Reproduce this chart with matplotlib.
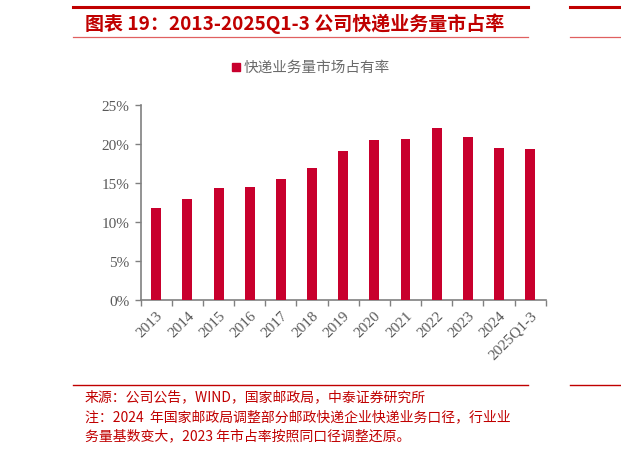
import matplotlib
matplotlib.use("Agg")
import matplotlib.pyplot as plt
from matplotlib.lines import Line2D
from matplotlib.patches import Rectangle
import numpy as np

categories = ["2013", "2014", "2015", "2016", "2017", "2018", "2019",
              "2020", "2021", "2022", "2023", "2024", "2025Q1-3"]
share = [11.7, 12.9, 14.3, 14.4, 15.5, 16.9, 19.1, 20.5, 20.6, 22.05, 20.9, 19.4, 19.35]
y_ticks = [0, 5, 10, 15, 20, 25]
y_labels = ["0%", "5%", "10%", "15%", "20%", "25%"]

title = "图表 19：2013-2025Q1-3 公司快递业务量市占率"
legend_label = "快递业务量市场占有率"
notes = ["来源：公司公告，WIND，国家邮政局，中泰证券研究所",
         "注：2024  年国家邮政局调整部分邮政快递企业快递业务口径，行业业",
         "务量基数变大，2023 年市占率按照同口径调整还原。"]

RED = "#C8002D"
TRED = "#C00000"
GREY = "#808080"
CJK = ["Noto Sans CJK SC", "DejaVu Sans"]
SERIF = ["Liberation Serif", "DejaVu Serif"]

W, H = 621, 456
fig = plt.figure(figsize=(W / 100, H / 100), dpi=100)

def fx(px):
    return px / W

def fy(py):
    return 1 - py / H

# header lines
fig.add_artist(Line2D([fx(73), fx(528)], [fy(8), fy(8)], color=TRED, lw=2.2))
fig.add_artist(Line2D([fx(570), fx(621)], [fy(8), fy(8)], color=TRED, lw=2.2))
fig.add_artist(Line2D([fx(73), fx(528)], [fy(38), fy(38)], color="#E06060", lw=0.9))
fig.add_artist(Line2D([fx(570), fx(621)], [fy(38), fy(38)], color="#E06060", lw=0.9))
fig.text(fx(85), fy(24), title, color=TRED, fontsize=13.7, fontweight="bold",
         style="italic", family=CJK, va="center", ha="left")

# legend
fig.add_artist(Rectangle((fx(232), fy(72)), fx(8), 8 / H, color=RED))
fig.text(fx(244), fy(68), legend_label, color="#6A6A6A", fontsize=10.5,
         family=CJK, va="center", ha="left")

# axes
ax = fig.add_axes([fx(140.7), fy(300.7), fx(545.7) - fx(140.7), fy(105.7) - fy(300.7)])
x = np.arange(len(categories))
ax.bar(x, share, width=0.32, color=RED, zorder=3)
ax.set_xlim(-0.5, len(categories) - 0.5)
ax.set_ylim(0, 25)
ax.set_yticks(y_ticks)
ax.set_yticklabels(y_labels, family=SERIF, fontsize=11, color="#595959")
ax.set_xticks(x)
ax.set_xticklabels(categories, family=SERIF, fontsize=11, color="#595959",
                   rotation=45, ha="right", rotation_mode="anchor")
ax.set_xticks(np.arange(len(categories) + 1) - 0.5, minor=True)
ax.tick_params(axis="x", which="major", length=0, pad=6)
ax.tick_params(axis="x", which="minor", length=4, direction="out", color=GREY, width=1)
ax.tick_params(axis="y", length=4, direction="out", color=GREY, width=1, pad=4)
for s in ["top", "right"]:
    ax.spines[s].set_visible(False)
for s in ["left", "bottom"]:
    ax.spines[s].set_color(GREY)
    ax.spines[s].set_linewidth(1.2)

# footer
fig.add_artist(Line2D([fx(73), fx(528)], [fy(386), fy(386)], color=TRED, lw=1.0))
fig.add_artist(Line2D([fx(570), fx(621)], [fy(386), fy(386)], color=TRED, lw=1.0))
for i, t in enumerate(notes):
    fig.text(fx(85), fy(397.5 + 19.5 * i), t, color=TRED, fontsize=10,
             family=CJK, va="center", ha="left")

fig.savefig("out.png", dpi=100)
